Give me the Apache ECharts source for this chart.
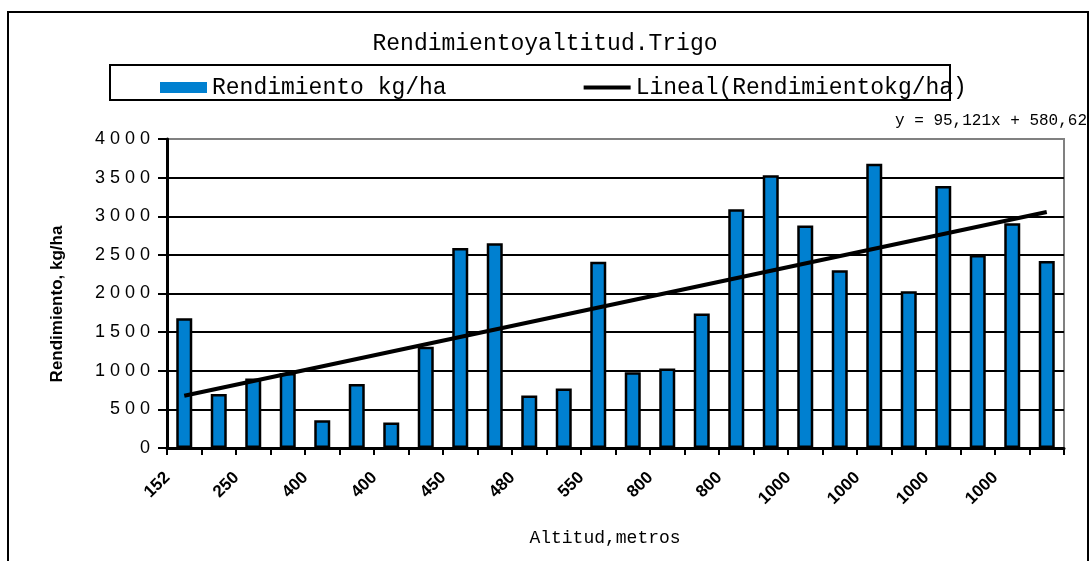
<!DOCTYPE html>
<html>
<head>
<meta charset="utf-8">
<script src="https://cdn.jsdelivr.net/npm/echarts@6/dist/echarts.min.js"></script>
<style>
html,body{margin:0;padding:0;background:#fff;}
#chart{width:1090px;height:561px;}
</style>
</head>
<body>
<div id="chart"></div>
<script>
// ---- data ----
var tickLabels = ['152','250','400','400','450','480','550','800','800','1000','1000','1000','1000'];
var yields = [1680,700,900,970,360,830,330,1310,2590,2650,680,770,2410,980,1030,1740,3090,3530,2880,2300,3680,2030,3390,2500,2910,2420];
// linear trend end points (y = 95,121x + 580,62)
var trendStart = 676;
var trendEnd = 3054;

// categories: labelled every other bar
var categories = [];
for (var i = 0; i < yields.length; i++) {
  categories.push(i % 2 === 0 ? tickLabels[i / 2] : '');
}
var trend = yields.map(function(){ return null; });
trend[0] = trendStart;
trend[trend.length - 1] = trendEnd;

var mono = '"Liberation Mono", "Courier New", monospace';
var sans = '"Liberation Sans", Arial, sans-serif';
var narrow = '"Liberation Sans Narrow", "Liberation Sans", Arial, sans-serif';

var chart = echarts.init(document.getElementById('chart'), null, {renderer:'canvas'});
chart.setOption({
  backgroundColor: '#fff',
  animation: false,
  title: {
    text: 'Rendimientoyaltitud.Trigo',
    left: 'center',
    top: 27,
    textStyle: {fontFamily: mono, fontSize: 23, fontWeight: 'normal', color: '#000'}
  },
  legend: {
    left: 155,
    top: 71,
    itemGap: 135,
    itemWidth: 47,
    itemHeight: 11,
    textStyle: {fontFamily: mono, fontSize: 23, color: '#000'},
    data: [
      {name: 'Rendimiento kg/ha', icon: 'rect', itemStyle: {borderWidth: 0, color: '#0080d0'}},
      {name: 'Lineal(Rendimientokg/ha)', itemStyle: {opacity: 0}, lineStyle: {width: 4, color: '#000'}}
    ]
  },
  graphic: [
    {type: 'rect', shape: {x: 8, y: 12, width: 1080, height: 570}, style: {fill: 'none', stroke: '#000', lineWidth: 2}, silent: true, z: -1},
    {type: 'rect', shape: {x: 110, y: 65, width: 840, height: 35}, style: {fill: 'none', stroke: '#000', lineWidth: 2}, silent: true},
    {type: 'text', right: 3, top: 113, style: {text: 'y = 95,121x + 580,62', fontFamily: mono, fontSize: 16, fill: '#000'}},
    {type: 'text', x: 57, y: 304, rotation: Math.PI / 2,
     style: {text: 'Rendimiento, kg/ha', fontFamily: narrow, fontSize: 17, fontWeight: 'bold', fill: '#000', align: 'center', verticalAlign: 'middle'}},
    {type: 'text', x: 605, y: 538,
     style: {text: 'Altitud,metros', fontFamily: mono, fontSize: 18, fill: '#000', align: 'center', verticalAlign: 'middle'}}
  ],
  grid: {
    left: 167, right: 26, top: 139, bottom: 113,
    show: true, borderColor: '#808080', borderWidth: 2, backgroundColor: 'transparent'
  },
  xAxis: {
    type: 'category',
    data: categories,
    boundaryGap: true,
    axisLine: {show: true, lineStyle: {color: '#000', width: 3}},
    axisTick: {show: true, alignWithLabel: false, interval: 0, length: 7, lineStyle: {color: '#000', width: 2}},
    axisLabel: {interval: 0, rotate: 45, margin: 10, fontFamily: sans, fontSize: 17, fontWeight: 'bold', color: '#000', padding: [0, 24, 26, 0]},
    splitLine: {show: false}
  },
  yAxis: {
    type: 'value',
    min: 0, max: 4000, interval: 500,
    axisLine: {show: true, lineStyle: {color: '#000', width: 3}},
    axisTick: {show: true, length: 9, lineStyle: {color: '#000', width: 2}},
    axisLabel: {
      margin: 17, fontFamily: sans, fontSize: 18, color: '#000',
      formatter: function(v){ return String(v).split('').join(' '); }
    },
    splitLine: {show: true, showMaxLine: false, lineStyle: {color: '#000', width: 2}}
  },
  series: [
    {
      name: 'Rendimiento kg/ha',
      type: 'bar',
      data: yields,
      barWidth: 16,
      itemStyle: {color: '#0080d0', borderColor: '#000', borderWidth: 2.5},
      z: 2
    },
    {
      name: 'Lineal(Rendimientokg/ha)',
      type: 'line',
      data: trend,
      connectNulls: true,
      symbol: 'none',
      lineStyle: {color: '#000', width: 4},
      itemStyle: {color: '#000'},
      z: 3
    }
  ]
});
</script>
</body>
</html>
